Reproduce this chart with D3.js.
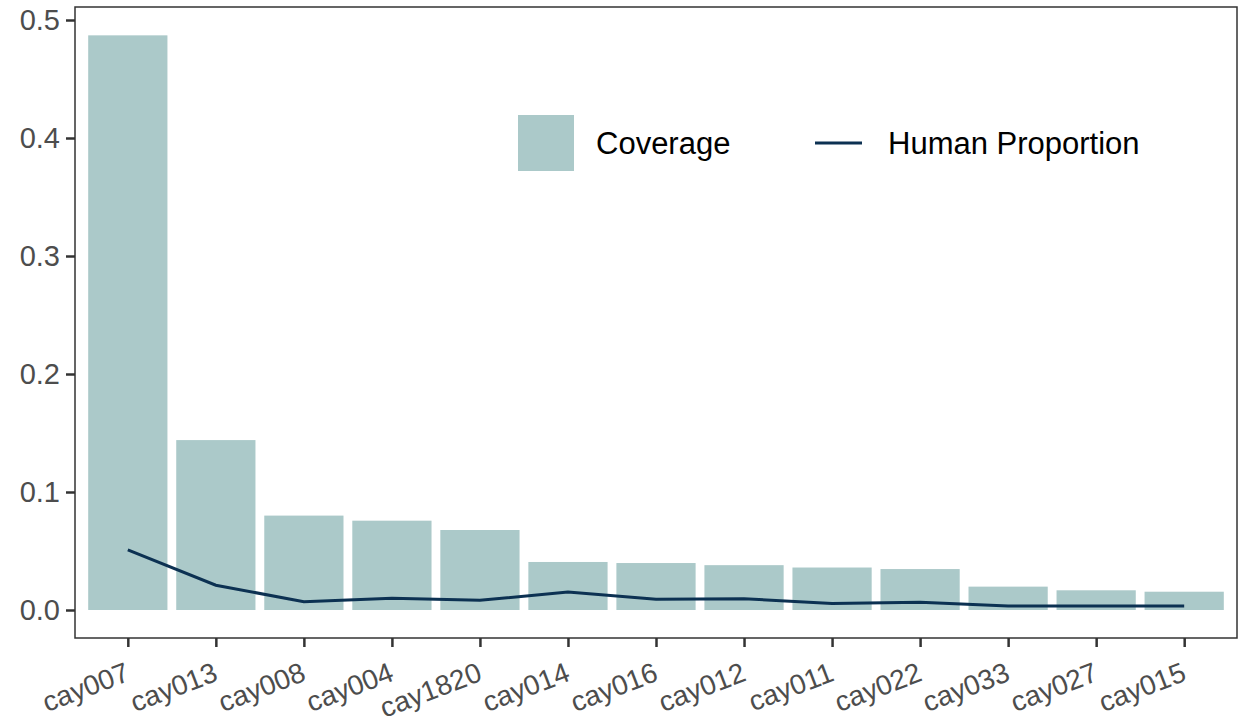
<!DOCTYPE html>
<html><head><meta charset="utf-8">
<script src="https://cdn.jsdelivr.net/npm/d3@7"></script>
<style>body{margin:0;background:#fff}svg{display:block;font-family:"Liberation Sans",Arial,Helvetica,sans-serif}</style>
</head><body><svg id="c" width="1239" height="725"></svg>
<script>
const categories = ["cay007","cay013","cay008","cay004","cay1820","cay014","cay016","cay012","cay011","cay022","cay033","cay027","cay015"];
const coverage = [0.487,0.144,0.080,0.0757,0.0678,0.0407,0.0398,0.038,0.036,0.0347,0.0198,0.0167,0.0155];
const humanProportion = [0.051,0.021,0.007,0.0099,0.0082,0.0153,0.0091,0.0096,0.0056,0.0065,0.0034,0.0034,0.0034];
const yTicks = [0,0.1,0.2,0.3,0.4,0.5];

const L=75,R=1237,T=7,B=638;
const svg=d3.select("#c");
const step=(R-L)/(categories.length-1+1.2);
const x=d3.scalePoint().domain(categories).range([L+0.6*step,R-0.6*step]);
const y=d3.scaleLinear().domain([0,0.5]).range([610,20]);
const bw=step*0.9;
const barColor="#abc9c9", lineColor="#0c3152";

svg.append("g").selectAll("rect").data(categories).join("rect")
  .attr("x",d=>x(d)-bw/2).attr("width",bw)
  .attr("y",(d,i)=>y(coverage[i])).attr("height",(d,i)=>y(0)-y(coverage[i]))
  .attr("fill",barColor);

svg.append("path").datum(categories)
  .attr("d",d3.line().x(d=>x(d)).y((d,i)=>y(humanProportion[i])))
  .attr("fill","none").attr("stroke",lineColor).attr("stroke-width",3);

svg.append("rect").attr("x",L).attr("y",T).attr("width",R-L).attr("height",B-T)
  .attr("fill","none").attr("stroke","#333").attr("stroke-width",1.5);

const ya=svg.append("g").attr("transform",`translate(${L},0)`)
  .call(d3.axisLeft(y).tickValues(yTicks).tickFormat(d3.format(".1f")).tickSize(9).tickPadding(6));
ya.select(".domain").remove();
ya.selectAll("line").attr("stroke","#333").attr("stroke-width",2.5);
ya.selectAll("text").attr("fill","#4d4d4d").attr("font-size",29).attr("font-family","Liberation Sans, Arial, sans-serif");

const xa=svg.append("g").attr("transform",`translate(0,${B})`)
  .call(d3.axisBottom(x).tickSize(9));
xa.select(".domain").remove();
xa.selectAll("line").attr("stroke","#333").attr("stroke-width",2.5);
xa.selectAll("text").attr("fill","#4d4d4d").attr("font-size",28).attr("font-family","Liberation Sans, Arial, sans-serif")
  .attr("text-anchor","end").attr("dy",null).attr("y",null)
  .attr("transform","translate(3,42) rotate(-21)");

// legend
const lg=svg.append("g");
lg.append("rect").attr("x",518).attr("y",115).attr("width",56).attr("height",56).attr("fill",barColor);
lg.append("text").attr("x",596).attr("y",154).text("Coverage").attr("font-size",31).attr("fill","#000");
lg.append("line").attr("x1",815).attr("x2",862).attr("y1",143).attr("y2",143).attr("stroke",lineColor).attr("stroke-width",3);
lg.append("text").attr("x",888).attr("y",154).text("Human Proportion").attr("font-size",31).attr("fill","#000");
</script></body></html>
